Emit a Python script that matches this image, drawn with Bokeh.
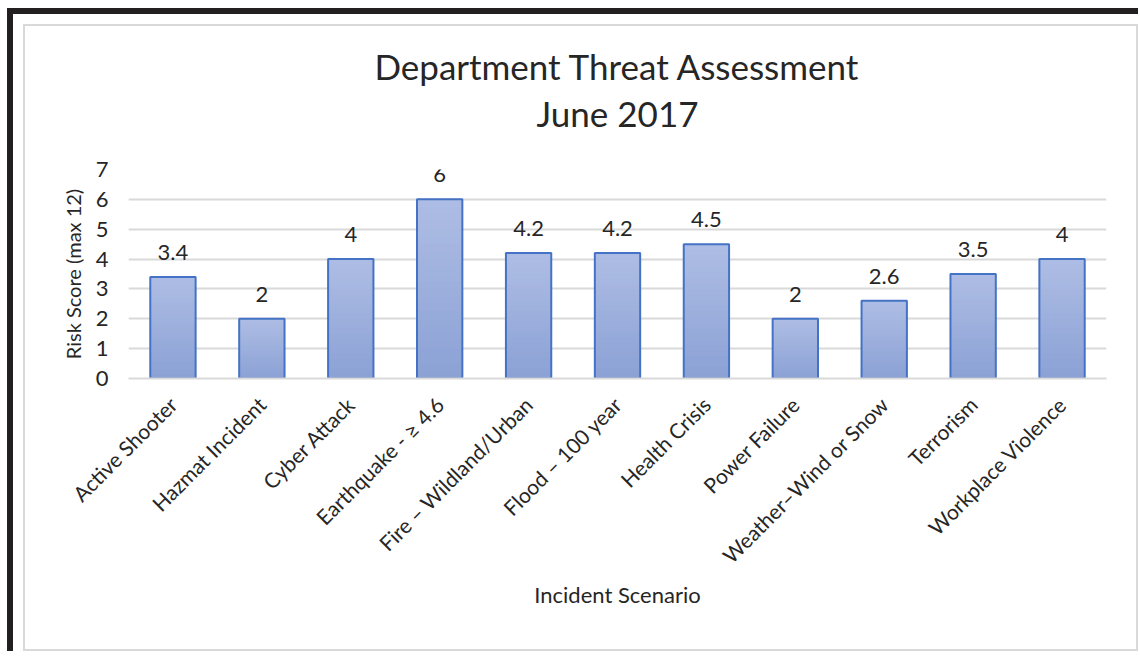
import math
from bokeh.plotting import figure
from bokeh.models import Title, ColumnDataSource, LabelSet
from bokeh.layouts import column
from bokeh.core.properties import value
from bokeh.embed import file_html
from bokeh.resources import INLINE

categories = ["Active Shooter", "Hazmat Incident", "Cyber Attack", "Earthquake - \u2265 4.6",
              "Fire \u2013 Wildland/Urban", "Flood \u2013 100 year", "Health Crisis",
              "Power Failure", "Weather\u2013Wind or Snow", "Terrorism", "Workplace Violence"]
scores = [3.4, 2, 4, 6, 4.2, 4.2, 4.5, 2, 2.6, 3.5, 4]
score_labels = ["3.4", "2", "4", "6", "4.2", "4.2", "4.5", "2", "2.6", "3.5", "4"]
y_ticks = [0, 1, 2, 3, 4, 5, 6, 7]
title_main = "Department Threat Assessment"
title_sub = "June 2017"

FONT = "Lato"
TXT = "#262626"

p = figure(x_range=categories, y_range=(0, 7), width=1115, height=627,
           output_backend="svg", toolbar_location=None,
           min_border_left=103, min_border_right=34, min_border_top=143, min_border_bottom=275,
           styles={"border": "2px solid #d9d9d9"})
p.title = None
# spacer between titles and plot area
p.add_layout(Title(text=" ", text_font=FONT, text_font_size="27px", standoff=1), "above")
p.add_layout(Title(text=title_sub, align="center", text_font=FONT, text_font_size="35px",
                   text_font_style="normal", text_color=TXT, standoff=0), "above")
p.add_layout(Title(text=title_main, align="center", text_font=FONT,
                   text_font_size="35px", text_font_style="normal", text_color=TXT, standoff=6), "above")

# gradient bars: drawn tallest-first as overlapping stacks (no seams)
N = 24
top_c = (0xAE, 0xBD, 0xE4)
bot_c = (0x8B, 0xA1, 0xD5)
for k in range(N, 0, -1):
    t = (k - 0.5) / N
    c = tuple(int(round(bot_c[i] + (top_c[i] - bot_c[i]) * t)) for i in range(3))
    col = "#%02x%02x%02x" % c
    src = ColumnDataSource(dict(x=categories, t=[v * k / N for v in scores]))
    p.vbar(x="x", top="t", width=0.51, source=src, fill_color=col, line_color=None)

src = ColumnDataSource(dict(x=categories, top=scores, lab=score_labels))
p.vbar(x="x", top="top", width=0.51, source=src, fill_color=None, line_color="#4472c4", line_width=2)
p.add_layout(LabelSet(x="x", y="top", text="lab", source=src, text_align="center",
                      text_baseline="bottom", y_offset=17, text_font=value(FONT),
                      text_font_size=value("22px"), text_color=TXT))

p.xgrid.grid_line_color = None
p.ygrid.grid_line_color = "#d9d9d9"
p.ygrid.grid_line_width = 2
p.yaxis.ticker = y_ticks
p.yaxis.axis_line_color = None
p.yaxis.major_tick_line_color = None
p.yaxis.minor_tick_line_color = None
p.yaxis.major_label_text_font = FONT
p.yaxis.major_label_text_font_size = "22px"
p.yaxis.major_label_text_color = TXT
p.yaxis.major_label_standoff = 14
p.yaxis.axis_label = "Risk Score (max 12)"
p.yaxis.axis_label_text_font = FONT
p.yaxis.axis_label_text_font_size = "20px"
p.yaxis.axis_label_text_font_style = "normal"
p.yaxis.axis_label_text_color = TXT
p.yaxis.axis_label_standoff = 8

p.xaxis.axis_line_color = "#d9d9d9"
p.xaxis.axis_line_width = 2
p.xaxis.major_tick_line_color = None
p.xaxis.minor_tick_line_color = None
p.xaxis.major_label_orientation = math.pi / 4
p.xaxis.major_label_text_font = FONT
p.xaxis.major_label_text_font_size = "21px"
p.xaxis.major_label_text_color = TXT
p.xaxis.major_label_standoff = 16
p.xaxis.axis_label = "Incident Scenario"
p.xaxis.axis_label_text_font = FONT
p.xaxis.axis_label_text_font_size = "22px"
p.xaxis.axis_label_text_font_style = "normal"
p.xaxis.axis_label_text_color = TXT
p.xaxis.axis_label_standoff = 2
p.outline_line_color = None

layout = column(p, styles={"border-top": "6px solid #231f20", "border-left": "6px solid #231f20",
                           "padding": "10px 0 0 10px", "margin-top": "8px", "margin-left": "7px"})

open("out.html", "w").write(file_html(layout, INLINE))
